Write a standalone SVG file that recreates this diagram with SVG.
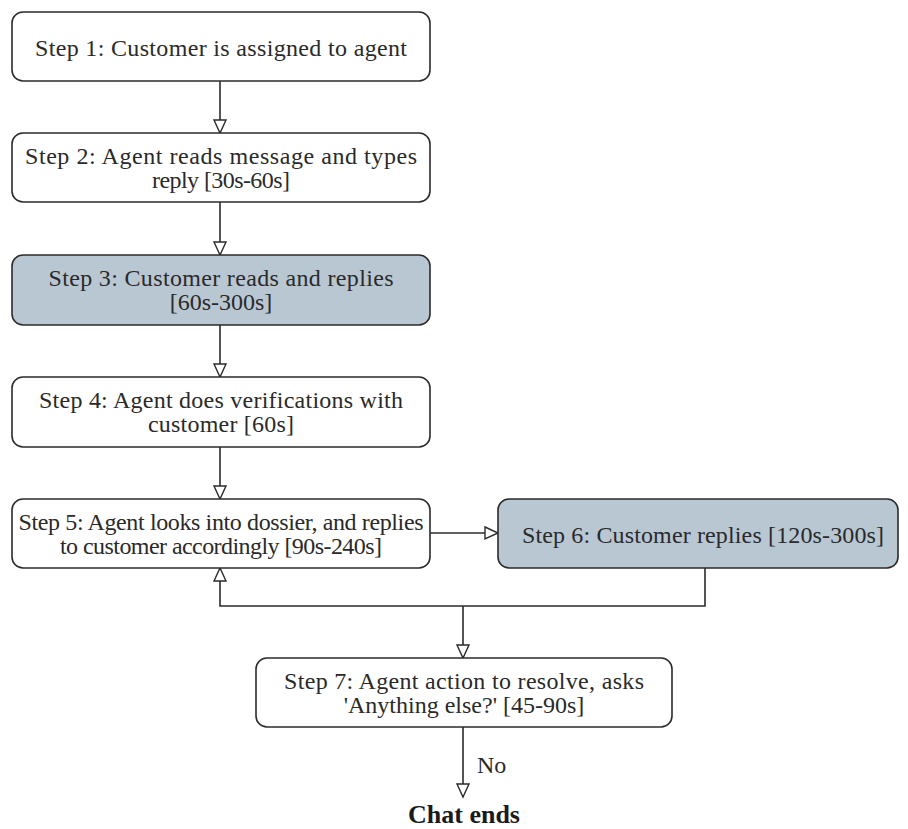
<svg xmlns="http://www.w3.org/2000/svg" width="908" height="829" viewBox="0 0 908 829">
<style>
.box{fill:#ffffff;stroke:#2b2b2b;stroke-width:1.6}
.blue{fill:#b9c7d3;stroke:#2b2b2b;stroke-width:1.6}
.t{font-family:"Liberation Serif","Times New Roman",serif;font-size:24px;fill:#2a2a2a;text-anchor:middle}
.conn{fill:none;stroke:#2b2b2b;stroke-width:1.6}
.end{font-family:"Liberation Serif","Times New Roman",serif;font-size:26px;font-weight:bold;fill:#1a1a1a;text-anchor:middle}
</style>
<defs>
<marker id="ah" markerUnits="userSpaceOnUse" markerWidth="16" markerHeight="16" viewBox="0 0 16 16" refX="14" refY="7" orient="auto">
<path d="M1,1 L14,7 L1,13 Z" fill="#ffffff" stroke="#2b2b2b" stroke-width="1.4"/>
</marker>
</defs>
<rect width="908" height="829" fill="#ffffff"/>
<g id="connectors">
<path class="conn" d="M220,81 L220,133" marker-end="url(#ah)"/>
<path class="conn" d="M220,202 L220,255" marker-end="url(#ah)"/>
<path class="conn" d="M220,325 L220,377" marker-end="url(#ah)"/>
<path class="conn" d="M220,447 L220,499" marker-end="url(#ah)"/>
<path class="conn" d="M430,533 L498,533" marker-end="url(#ah)"/>
<path class="conn" d="M705,568 L705,606 L220,606 L220,568" marker-end="url(#ah)"/>
<path class="conn" d="M463,606 L463,658" marker-end="url(#ah)"/>
<path class="conn" d="M463,727 L463,797" marker-end="url(#ah)"/>
<text class="t" x="477" y="773" style="text-anchor:start">No</text>
</g>
<g id="step1">
<rect class="box" x="12" y="12" width="418" height="69" rx="11"/>
<text class="t" x="221" y="56" textLength="372">Step 1: Customer is assigned to agent</text>
</g>
<g id="step2">
<rect class="box" x="12" y="133" width="418" height="69" rx="11"/>
<text class="t" x="221" y="164" textLength="392">Step 2: Agent reads message and types</text>
<text class="t" x="221" y="188" textLength="138">reply [30s-60s]</text>
</g>
<g id="step3">
<rect class="blue" x="12" y="255" width="418" height="70" rx="11"/>
<text class="t" x="221" y="286" textLength="345">Step 3: Customer reads and replies</text>
<text class="t" x="221" y="310">[60s-300s]</text>
</g>
<g id="step4">
<rect class="box" x="12" y="377" width="418" height="70" rx="11"/>
<text class="t" x="221" y="408" textLength="364">Step 4: Agent does verifications with</text>
<text class="t" x="221" y="432" textLength="146">customer [60s]</text>
</g>
<g id="step5">
<rect class="box" x="12" y="499" width="418" height="69" rx="11"/>
<text class="t" x="221" y="530" textLength="405">Step 5: Agent looks into dossier, and replies</text>
<text class="t" x="221" y="554" textLength="322">to customer accordingly [90s-240s]</text>
</g>
<g id="step6">
<rect class="blue" x="498" y="499" width="400" height="69" rx="11"/>
<text class="t" x="703" y="543" textLength="362">Step 6: Customer replies [120s-300s]</text>
</g>
<g id="step7">
<rect class="box" x="256" y="658" width="416" height="69" rx="11"/>
<text class="t" x="464" y="689" textLength="360">Step 7: Agent action to resolve, asks</text>
<text class="t" x="464" y="713">'Anything else?' [45-90s]</text>
</g>
<g id="chat-ends">
<text class="end" x="464" y="823">Chat ends</text>
</g>
</svg>
